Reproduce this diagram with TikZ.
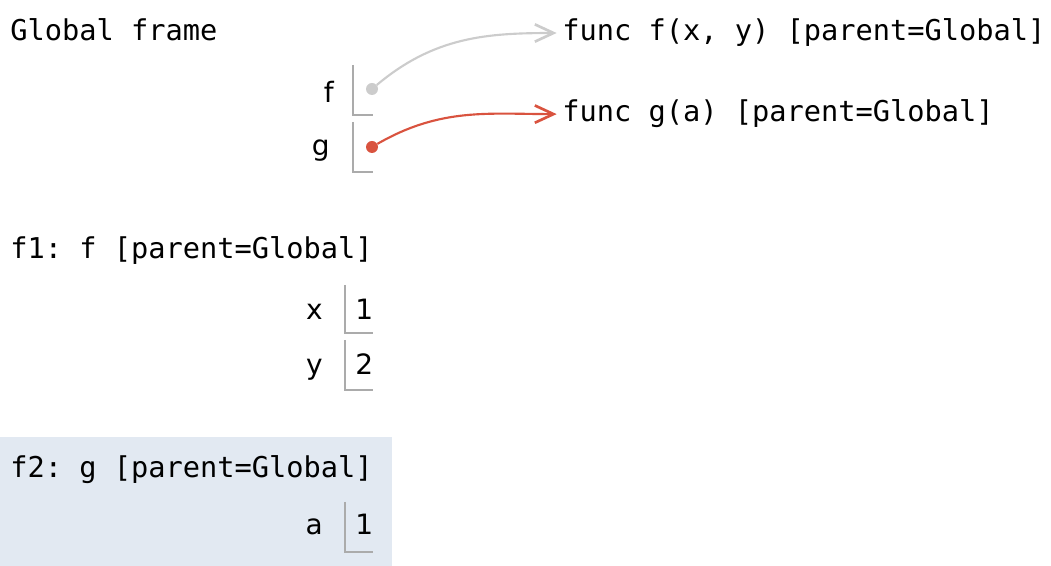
\documentclass[tikz,border=0pt]{standalone}
\usepackage{fontspec}
\setmainfont{DejaVu Sans}
\setmonofont{DejaVu Sans Mono}
\usetikzlibrary{arrows.meta,positioning}
\definecolor{frameblue}{HTML}{E2E9F2}
\definecolor{ptrred}{HTML}{D9533F}
\definecolor{ptrgray}{HTML}{CCCCCC}
\definecolor{boxgray}{HTML}{ABABAB}

\begin{document}
\begin{tikzpicture}[x=0.75pt,y=0.75pt,
  code/.style={inner sep=0pt,anchor=base west,font=\ttfamily\fontsize{21.5}{26}\selectfont},
  var/.style={inner sep=0pt,anchor=base east,font=\fontsize{21}{25}\selectfont},
  val/.style={inner sep=0pt,anchor=base west,font=\fontsize{21}{25}\selectfont},
  dot/.style={circle,fill,inner sep=0pt,minimum size=9pt},
  cell/.style={boxgray,line width=1.3pt},
  ptr/.style={-{Straight Barb[length=14pt,width=13pt,line width=2pt]},line width=1.6pt,shorten >=4pt}]
\useasboundingbox (0,0) rectangle (1051,-566);
\fill[frameblue] (0,-437) rectangle (392,-566);

% global frame
\node[code] (glob) at (10,-41) {Global frame};
\node[var] (lf) at (334,-103) {f};
\node[var] (lg) at (330,-156) {g};
\draw[cell] (353,-65) |- (373,-115);
\draw[cell] (353,-122) |- (373,-172);
\node[dot,ptrgray] (pf) at (372,-89) {};
\node[dot,ptrred] (pg) at (372,-147) {};
\node[code] (funcf) at (562,-41) {func f(x, y) [parent=Global]};
\node[code] (funcg) at (562,-122) {func g(a) [parent=Global]};
\draw[ptr,ptrgray] (pf) to[out=40,in=180] (funcf.west);
\draw[ptr,ptrred] (pg) to[out=30,in=180] (funcg.west);

% f1
\node[code] (fone) at (10,-259) {f1: f [parent=Global]};
\node[var] (lx) at (323,-320) {x};
\node[val] (vx) at (355,-320) {1};
\draw[cell] (345,-285) |- (373,-333);
\node[var] (ly) at (323,-375) {y};
\node[val] (vy) at (355,-375) {2};
\draw[cell] (345,-340) |- (373,-390);

% f2
\node[code] (ftwo) at (10,-478) {f2: g [parent=Global]};
\node[var] (la) at (323,-535) {a};
\node[val] (va) at (355,-535) {1};
\draw[cell] (345,-502) |- (373,-552);
\end{tikzpicture}
\end{document}
